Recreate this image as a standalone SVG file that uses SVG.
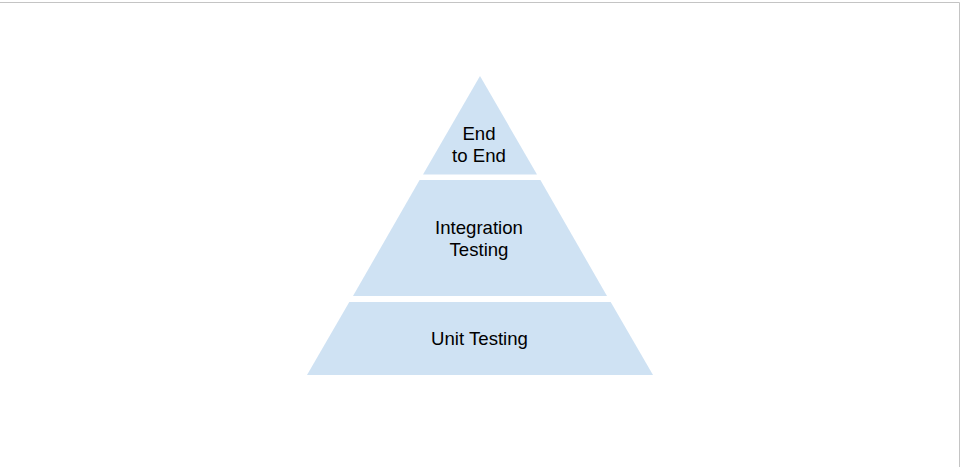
<svg xmlns="http://www.w3.org/2000/svg" width="960" height="467" viewBox="0 0 960 467">
<style>
.tier{fill:#cfe2f3;stroke:none}
.lbl{font-family:"Liberation Sans",Arial,sans-serif;font-size:18.6px;fill:#000;text-anchor:middle}
.frame{fill:none;stroke:#c4c4c4;stroke-width:1}
</style>
<rect x="0" y="0" width="960" height="467" fill="#ffffff"/>
<path class="frame" d="M0,2.5 H959.5 V467"/>
<g id="end-to-end">
<polygon class="tier" points="480,76 537,174.5 423,174.5"/>
<text class="lbl" x="479" y="139.5">End</text>
<text class="lbl" x="479" y="161.5">to End</text>
</g>
<g id="integration-testing">
<polygon class="tier" points="419.6,180 540.4,180 607,296 353,296"/>
<text class="lbl" x="479" y="233.5">Integration</text>
<text class="lbl" x="479" y="255.5">Testing</text>
</g>
<g id="unit-testing">
<polygon class="tier" points="349.3,302 610.7,302 653,375 307,375"/>
<text class="lbl" x="479.5" y="344.5">Unit Testing</text>
</g>
<g id="connectors"></g>
</svg>
